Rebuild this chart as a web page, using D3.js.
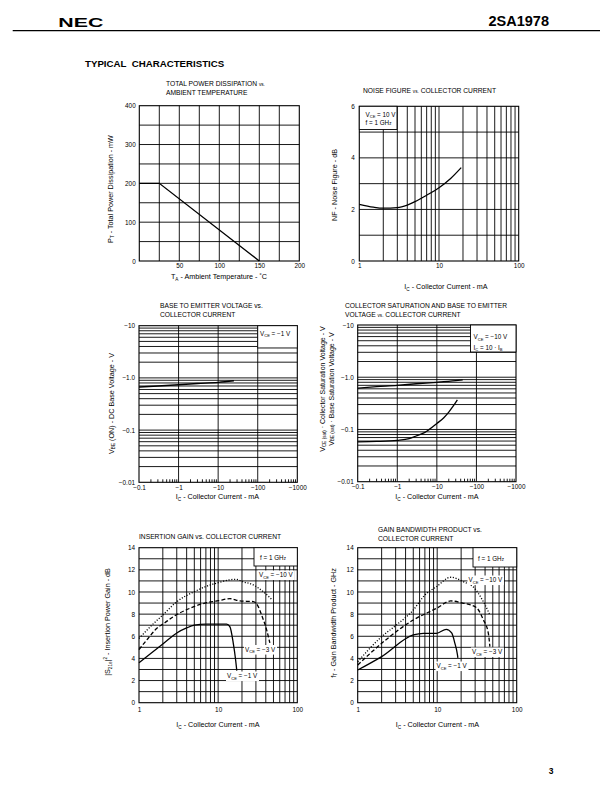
<!DOCTYPE html>
<html><head><meta charset="utf-8">
<script src="https://cdn.jsdelivr.net/npm/d3@7"></script>
<style>
body{margin:0;background:#fff}
svg{display:block}
text{font-family:"Liberation Sans",Arial,Helvetica,sans-serif;fill:#000}
</style>
</head><body>
<svg id="page" width="612" height="792"></svg>
<script>
// ================= DATA =================
// Chart 1: total power dissipation vs ambient temperature
const pdTemp = [0, 25, 150];
const pdPower = [200, 200, 0];
const pdXTicks = [50, 100, 150, 200];
const pdYTicks = [0, 100, 200, 300, 400];

// Chart 2: noise figure vs collector current
const nfCurrent = [1, 1.5, 2, 3, 4, 5, 7, 10, 14, 19];
const nfValue = [2.2, 2.09, 2.05, 2.07, 2.17, 2.3, 2.55, 2.84, 3.2, 3.62];
const nfXTicks = [1, 10, 100];
const nfYTicks = [0, 2, 4, 6];

// Chart 3: base to emitter voltage vs collector current (magnitudes)
const vbeCurrent = [0.1, 0.3, 1, 3, 10, 25];
const vbeValue = [0.67, 0.7, 0.74, 0.78, 0.82, 0.88];

// Chart 4: saturation voltages vs collector current (magnitudes)
const vbeSatCurrent = [0.1, 0.3, 1, 3, 10, 30, 45];
const vbeSatValue = [0.62, 0.66, 0.7, 0.75, 0.8, 0.86, 0.89];
const vceSatCurrent = [0.1, 0.3, 1, 2, 3, 5, 10, 15, 20, 25, 33];
const vceSatValue = [0.058, 0.059, 0.062, 0.067, 0.075, 0.088, 0.13, 0.168, 0.215, 0.27, 0.37];

const logXTicks = [0.1, 1, 10, 100, 1000];
const logXLabels = ["\u22120.1", "\u22121", "\u221210", "\u2212100", "\u22121000"];
const logYTicks = [0.01, 0.1, 1, 10];
const logYLabels = ["\u22120.01", "\u22120.1", "\u22121.0", "\u221210"];

// Chart 5: insertion gain vs collector current
const gainCurrent10 = [1, 1.5, 2, 3, 5, 7.9, 10, 14, 17, 20, 28, 37, 45, 48];
const gainValue10 = [5.8, 7.1, 7.92, 9.12, 10.03, 10.63, 10.84, 11.1, 11.15, 10.95, 10.63, 10.03, 9.5, 9.3];
const gainCurrent3 = [1, 1.3, 1.67, 2.1, 2.71, 4.4, 7.15, 10.1, 14.1, 18.8, 27.8, 32, 35.4, 41, 45];
const gainValue3 = [4.8, 5.8, 6.7, 7.2, 7.77, 8.53, 9.03, 9.21, 9.4, 9.19, 9.13, 8.7, 7.92, 6.57, 5.4];
const gainCurrent1 = [1, 1.5, 2, 3, 4, 5, 7, 10, 12.8, 14.1, 15.5, 16.6, 17.2];
const gainValue1 = [3.6, 4.6, 5.3, 6.3, 6.75, 7.0, 7.1, 7.1, 7.1, 6.85, 5.4, 3.9, 2.9];

// Chart 6: gain bandwidth product vs collector current
const ftCurrent10 = [1, 2, 2.95, 5, 7, 9.8, 14.8, 21.3, 30, 36, 44, 46];
const ftValue10 = [3.7, 5.96, 6.93, 8.37, 9.73, 10.48, 11.33, 10.93, 10.27, 9.43, 8.22, 7.9];
const ftCurrent3 = [1, 2, 5, 9.8, 14.8, 21, 31, 38, 44, 46];
const ftValue3 = [3.4, 5.36, 7.47, 8.52, 9.19, 9.0, 8.6, 7.5, 6.27, 5.06];
const ftCurrent1 = [1, 2, 5, 6.7, 9.8, 13, 15.2, 16.7, 18, 18.2];
const ftValue1 = [2.95, 4.16, 6.12, 6.27, 6.27, 6.63, 6.3, 5.36, 4.31, 4.05];

const icXTicks = [1, 10, 100];
const gainYTicks = [0, 2, 4, 6, 8, 10, 12, 14];

// ================= DRAWING =================
const svg = d3.select('#page');
const FF = '"Liberation Sans",Arial,Helvetica,sans-serif';
const TICK = 6.4, LAB = 7.2, TITLE = 6.7, LEG = 6.3;

function rich(t, parts, size, subShift) {
  let off = 0;
  const sh = subShift == null ? 0.25 : subShift;
  parts.forEach(p => {
    const s = p[0], k = p[1];
    const target = k === 's' ? size * sh : k === 'p' ? -size * 0.42 : 0;
    const ts = t.append('tspan').text(s);
    if (target - off !== 0) ts.attr('dy', target - off);
    off = target;
    if (k === 's' || k === 'p') ts.attr('font-size', size * 0.65);
    if (k === 'm') ts.attr('font-size', size * 0.7);
  });
}
function addText(x, y, parts, size, anchor, rotate, subShift) {
  const t = svg.append('text').attr('font-size', size)
    .attr('text-anchor', anchor || 'start');
  if (rotate) t.attr('transform', `translate(${x},${y}) rotate(-90)`);
  else t.attr('x', x).attr('y', y);
  rich(t, parts, size, subShift);
  return t;
}
function labelWithBg(x, y, parts, size) {
  const t = addText(x, y, parts, size);
  const b = t.node().getBBox();
  svg.insert('rect', () => t.node())
    .attr('x', b.x - 1).attr('y', b.y - 0.5).attr('width', b.width + 2).attr('height', b.height + 1)
    .attr('fill', '#fff');
  return t;
}
function logGrid(min, max) {
  const out = [];
  for (let e = Math.floor(Math.log10(min)); e <= Math.ceil(Math.log10(max)); e++) {
    for (let k = 1; k <= 9; k++) {
      const v = k * Math.pow(10, e);
      if (v > min * 1.0001 && v < max * 0.9999) out.push(v);
    }
  }
  return out;
}
function grid(g, xs, ys, x, y) {
  const [x0, x1] = x.range(), [y0, y1] = y.range();
  g.selectAll(null).data(xs).join('line')
    .attr('x1', d => x(d)).attr('x2', d => x(d)).attr('y1', y0).attr('y2', y1)
    .attr('stroke', '#000').attr('stroke-width', 0.9);
  g.selectAll(null).data(ys).join('line')
    .attr('y1', d => y(d)).attr('y2', d => y(d)).attr('x1', x0).attr('x2', x1)
    .attr('stroke', '#000').attr('stroke-width', 0.9);
}
function frame(g, x, y) {
  const [x0, x1] = x.range(), [y0, y1] = y.range();
  g.append('rect').attr('x', x0).attr('y', y1).attr('width', x1 - x0).attr('height', y0 - y1)
    .attr('fill', 'none').attr('stroke', '#000').attr('stroke-width', 1.1);
}
function axes(g, x, y, xt, xl, yt, yl, xpad, ypad) {
  const ax = g.append('g').attr('transform', `translate(0,${y.range()[0]})`)
    .call(d3.axisBottom(x).tickValues(xt).tickSize(0).tickPadding(xpad)
      .tickFormat((d, i) => xl ? xl[i] : String(d)));
  const ay = g.append('g').attr('transform', `translate(${x.range()[0]},0)`)
    .call(d3.axisLeft(y).tickValues(yt).tickSize(0).tickPadding(ypad)
      .tickFormat((d, i) => yl ? yl[i] : String(d)));
  [ax, ay].forEach(a => {
    a.select('.domain').remove();
    a.attr('font-family', FF).attr('font-size', TICK).attr('color', '#000');
  });
}
function curve(g, x, y, xs, vs, dash, w, linear) {
  const pts = xs.map((d, i) => [x(d), y(vs[i])]);
  const gen = d3.line().curve(linear ? d3.curveLinear : d3.curveMonotoneX);
  const p = g.append('path').attr('d', gen(pts))
    .attr('fill', 'none').attr('stroke', '#000').attr('stroke-width', w || 1.2);
  if (dash) p.attr('stroke-dasharray', dash);
  return p;
}
function legendBox(g, x0, y0, x1, y1) {
  g.append('rect').attr('x', x0).attr('y', y0).attr('width', x1 - x0).attr('height', y1 - y0)
    .attr('fill', '#fff').attr('stroke', '#000').attr('stroke-width', 0.9);
}

// ---------- header ----------
svg.append('line').attr('x1', 12.7).attr('x2', 600).attr('y1', 30.7).attr('y2', 30.7)
  .attr('stroke', '#000').attr('stroke-width', 1.3);
svg.append('text').attr('x', 58.3).attr('y', 27).attr('font-size', 13.5).attr('font-weight', 900)
  .attr('textLength', 45).attr('lengthAdjust', 'spacingAndGlyphs').text('NEC');
svg.append('text').attr('x', 549).attr('y', 26.3).attr('font-size', 14.5).attr('font-weight', 700)
  .attr('text-anchor', 'end').text('2SA1978');
svg.append('text').attr('x', 85).attr('y', 67.3).attr('font-size', 9.7).attr('font-weight', 700)
  .style('white-space', 'pre').text('TYPICAL  CHARACTERISTICS');
svg.append('text').attr('x', 553.5).attr('y', 773.5).attr('font-size', 8.5).attr('font-weight', 700)
  .attr('text-anchor', 'end').text('3');

// ---------- Chart 1 ----------
{
  const g = svg.append('g');
  const x = d3.scaleLinear([0, 200], [139.3, 299.3]);
  const y = d3.scaleLinear([0, 400], [261, 105.7]);
  grid(g, d3.range(25, 200, 25), d3.range(50, 400, 50), x, y);
  frame(g, x, y);
  curve(g, x, y, pdTemp, pdPower, null, 1.3, true);
  axes(g, x, y, pdXTicks, null, pdYTicks, null, 2.8, 3.6);
  addText(166, 85.5, [['TOTAL POWER DISSIPATION '], ['vs.', 'm']], TITLE);
  addText(166, 95, [['AMBIENT TEMPERATURE']], TITLE);
  addText(112.5, 189, [['P'], ['T', 's'], [' - Total Power Dissipation - mW']], LAB, 'middle', true);
  addText(219, 279, [['T'], ['A', 's'], [' - Ambient Temperature - \u02DAC']], LAB, 'middle');
}

// ---------- Chart 2 ----------
{
  const g = svg.append('g');
  const x = d3.scaleLog([1, 100], [359.3, 518.7]);
  const y = d3.scaleLinear([0, 6], [261, 106.3]);
  grid(g, logGrid(1, 100), [1, 2, 3, 4, 5], x, y);
  frame(g, x, y);
  legendBox(g, 359.3, 106.3, 397, 129.5);
  curve(g, x, y, nfCurrent, nfValue, null, 1.3);
  axes(g, x, y, nfXTicks, null, nfYTicks, null, 2.7, 4.6);
  addText(365.5, 116.5, [['V'], ['CE', 's'], [' = 10 V']], LEG);
  addText(365.5, 125, [['f = 1 GH'], ['z', 'm']], LEG);
  addText(363, 93, [['NOISE FIGURE '], ['vs.', 'm'], [' COLLECTOR CURRENT']], TITLE);
  addText(336.5, 185, [['NF - Noise Figure - dB']], LAB, 'middle', true);
  addText(446, 289, [['I'], ['C', 's'], [' - Collector Current - mA']], LAB, 'middle');
}

// ---------- Chart 3 ----------
{
  const g = svg.append('g');
  const x = d3.scaleLog([0.1, 1000], [139, 297.3]);
  const y = d3.scaleLog([0.01, 10], [482.3, 325.7]);
  grid(g, [1, 10, 100], logGrid(0.01, 10), x, y);
  const yb = y.range()[0];
  g.selectAll(null).data(logGrid(0.1, 1000).filter(v => !logXTicks.includes(v))).join('line')
    .attr('x1', d => x(d)).attr('x2', d => x(d)).attr('y1', yb).attr('y2', yb - 3)
    .attr('stroke', '#000').attr('stroke-width', 0.9);
  frame(g, x, y);
  legendBox(g, x(100), y(10), x(1000), y(4) + 1.5);
  curve(g, x, y, vbeCurrent, vbeValue, null, 1.4);
  axes(g, x, y, logXTicks, logXLabels, logYTicks, logYLabels, 3.1, 4);
  addText(260, 335.5, [['V'], ['CE', 's'], [' = \u22121 V']], LEG);
  addText(160, 307.7, [['BASE TO EMITTER VOLTAGE vs.']], TITLE);
  addText(160, 316.7, [['COLLECTOR CURRENT']], TITLE);
  addText(113.5, 403.5, [['V'], ['BE', 's'], [' (ON) - DC Base Voltage - V']], LAB, 'middle', true);
  addText(217.5, 499, [['I'], ['C', 's'], [' - Collector Current - mA']], LAB, 'middle');
}

// ---------- Chart 4 ----------
{
  const g = svg.append('g');
  const x = d3.scaleLog([0.1, 1000], [357.7, 516]);
  const y = d3.scaleLog([0.01, 10], [481.7, 325]);
  grid(g, [1, 10, 100], logGrid(0.01, 10), x, y);
  const yb = y.range()[0];
  g.selectAll(null).data(logGrid(0.1, 1000).filter(v => !logXTicks.includes(v))).join('line')
    .attr('x1', d => x(d)).attr('x2', d => x(d)).attr('y1', yb).attr('y2', yb - 3)
    .attr('stroke', '#000').attr('stroke-width', 0.9);
  frame(g, x, y);
  legendBox(g, 470.5, 325, 516, 352);
  curve(g, x, y, vbeSatCurrent, vbeSatValue, null, 1.3);
  curve(g, x, y, vceSatCurrent, vceSatValue, null, 1.3);
  axes(g, x, y, logXTicks, logXLabels, logYTicks, logYLabels, 3.1, 4);
  addText(473.5, 339, [['V'], ['CE', 's'], [' = \u221210 V']], LEG);
  addText(473.5, 349.5, [['I'], ['C', 's'], [' = 10 \u00B7 I'], ['B', 's']], LEG);
  addText(345, 307.7, [['COLLECTOR SATURATION AND BASE TO EMITTER']], TITLE);
  addText(345, 316.7, [['VOLTAGE '], ['vs.', 'm'], [' COLLECTOR CURRENT']], TITLE);
  addText(325, 389, [['V'], ['CE (sat)', 's'], [' \u00B7 Collector Saturation Voltage - V']], 7, 'middle', true, 0.12);
  addText(333.5, 389, [['V'], ['BE (sat)', 's'], [' \u00B7 Base Saturation Voltage - V']], 7, 'middle', true, 0.12);
  addText(437, 499, [['I'], ['C', 's'], [' - Collector Current - mA']], LAB, 'middle');
}

// ---------- Chart 5 ----------
{
  const g = svg.append('g');
  const x = d3.scaleLog([1, 100], [139, 297.3]);
  const y = d3.scaleLinear([0, 14], [702.7, 547.7]);
  grid(g, logGrid(1, 100), d3.range(1, 14), x, y);
  frame(g, x, y);
  legendBox(g, 254, 547.7, 297.3, 566);
  curve(g, x, y, gainCurrent10, gainValue10, '1.1,1.7', 1.3);
  curve(g, x, y, gainCurrent3, gainValue3, '4,2.2', 1.3);
  curve(g, x, y, gainCurrent1, gainValue1, null, 1.3);
  axes(g, x, y, icXTicks, null, gainYTicks, null, 4.8, 4);
  addText(260, 559.5, [['f = 1 GH'], ['z', 'm']], LEG);
  labelWithBg(259, 577, [['V'], ['CE', 's'], [' = \u221210 V']], LEG);
  labelWithBg(245, 651.5, [['V'], ['CE', 's'], [' = \u22123 V']], LEG);
  labelWithBg(227, 678, [['V'], ['CE', 's'], [' = \u22121 V']], LEG);
  addText(139, 538.7, [['INSERTION GAIN vs. COLLECTOR CURRENT']], TITLE);
  addText(110, 622, [['|S'], ['21e', 's'], ['|'], ['2', 'p'], [' - Insertion Power Gain - dB']], LAB, 'middle', true);
  addText(218, 727, [['I'], ['C', 's'], [' - Collector Current - mA']], LAB, 'middle');
}

// ---------- Chart 6 ----------
{
  const g = svg.append('g');
  const x = d3.scaleLog([1, 100], [357.7, 516.7]);
  const y = d3.scaleLinear([0, 14], [702.7, 547.7]);
  grid(g, logGrid(1, 100), d3.range(1, 14), x, y);
  frame(g, x, y);
  legendBox(g, 473, 547.7, 516.7, 567);
  curve(g, x, y, ftCurrent10, ftValue10, '1.1,1.7', 1.3);
  curve(g, x, y, ftCurrent3, ftValue3, '4,2.2', 1.3);
  curve(g, x, y, ftCurrent1, ftValue1, null, 1.3);
  axes(g, x, y, icXTicks, null, gainYTicks, null, 4.5, 4);
  addText(478, 560.5, [['f = 1 GH'], ['z', 'm']], LEG);
  labelWithBg(468.5, 582, [['V'], ['CE', 's'], [' = \u221210 V']], LEG);
  labelWithBg(472, 654, [['V'], ['CE', 's'], [' = \u22123 V']], LEG);
  labelWithBg(436.5, 668, [['V'], ['CE', 's'], [' = \u22121 V']], LEG);
  addText(378, 531.7, [['GAIN BANDWIDTH PRODUCT vs.']], TITLE);
  addText(378, 540.7, [['COLLECTOR CURRENT']], TITLE);
  addText(335.5, 623, [['f'], ['T', 's'], [' - Gain Bandwidth Product - GHz']], LAB, 'middle', true);
  addText(437.5, 727, [['I'], ['C', 's'], [' - Collector Current - mA']], LAB, 'middle');
}
</script>
</body></html>
